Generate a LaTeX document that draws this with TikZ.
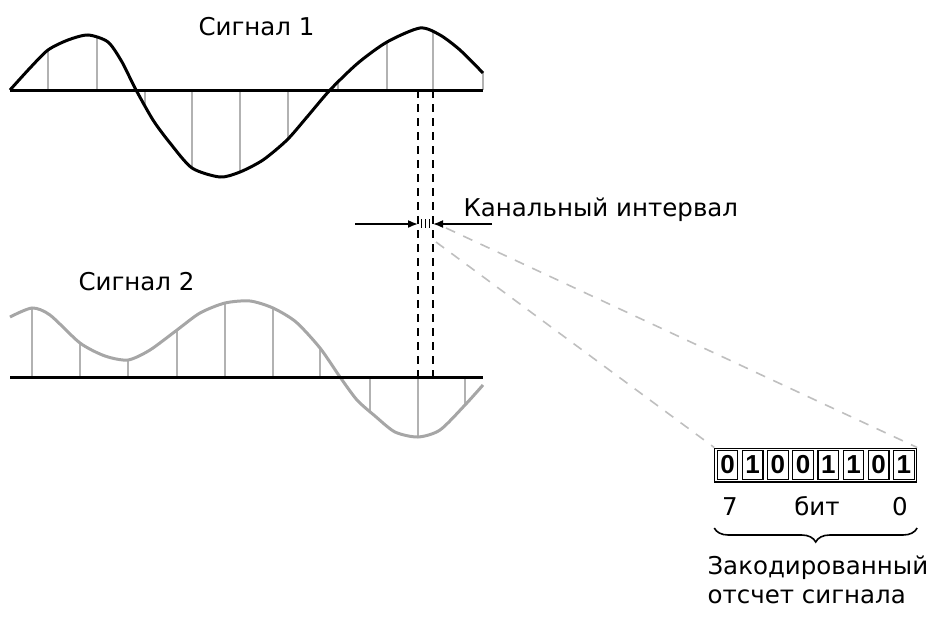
\documentclass[tikz,border=0pt]{standalone}
\usepackage{fontspec}
\setmainfont{DejaVu Sans}
\newfontfamily\bitfont{Liberation Sans}
\usetikzlibrary{positioning,arrows.meta,fit,decorations.pathreplacing}

\begin{document}
\begin{tikzpicture}[
  x=1pt, y=-1pt,
  font=\fontsize{24.5}{29}\selectfont,
  >={Latex[length=10pt,width=8pt]},
  axis/.style={line width=3pt},
  sigA/.style={line width=3pt, black},
  sigB/.style={line width=3pt, black!35},
  smp/.style={line width=2pt, black!30},
  guide/.style={line width=1.6pt, dash pattern=on 8pt off 6pt},
  proj/.style={line width=1.6pt, black!25, dash pattern=on 10pt off 9pt},
  bit/.style={draw, line width=1.2pt, minimum width=20.5pt, minimum height=29pt,
              inner sep=0pt, font=\bitfont\bfseries\fontsize{26}{26}\selectfont},
  node distance=3.5pt,
]
\useasboundingbox (0,0) rectangle (937,621);

\foreach \x/\y in {48/50, 97/37, 145/105, 192/168, 240/172, 288/140, 338/82, 387/42, 433/31, 483/73}
  \draw[smp] (\x,90) -- (\x,\y);
\draw[sigA] plot[smooth, tension=0.45] coordinates {(10,90) (30,68) (48,50) (68,40)
  (88,35) (108,42) (122,62) (135,88) (153,120) (170,143) (192,168) (220,177)
  (240,172) (263,160) (287,140) (307,117) (330,90) (358,63) (387,42) (420,28)
  (440,35) (460,50) (483,73)};
\draw[axis] (10,90) -- (483,90);

\foreach \x/\y in {32/308, 80/343, 128/360, 177/330, 225/303, 273/308, 320/348, 370/412, 418/437, 465/405}
  \draw[smp] (\x,377) -- (\x,\y);
\draw[sigB] plot[smooth, tension=0.45] coordinates {(10,317) (32,308) (50,315)
  (80,343) (105,356) (128,360) (150,350) (177,330) (200,313) (225,303) (250,301)
  (273,308) (296,322) (320,348) (340,377) (357,400) (375,416) (395,432) (418,437)
  (440,430) (465,405) (483,385)};
\draw[axis] (10,377) -- (483,377);

\node[anchor=base west] (s1) at (195,35) {Сигнал 1};
\node[anchor=base west] (s2) at (75,290) {Сигнал 2};

\draw[guide] (418,90) -- (418,377);
\draw[guide] (433,90) -- (433,377);

\coordinate (al) at (355,224);
\coordinate (ar) at (492,224);
\coordinate (ka) at (418,224);
\coordinate (kb) at (433,224);
\draw[line width=1.6pt, ->] (al) -- (ka);
\draw[line width=1.6pt, ->] (ar) -- (kb);
\foreach \x in {421,425,429}
  \draw[line width=1pt] (\x,219) -- (\x,228);
\node[anchor=base west] (kint) at (460,216) {Канальный интервал};

\node[bit] (b7) at (727.5,465) {0};
\node[bit, right=of b7] (b6) {1};
\node[bit, right=of b6] (b5) {0};
\node[bit, right=of b5] (b4) {0};
\node[bit, right=of b4] (b3) {1};
\node[bit, right=of b3] (b2) {1};
\node[bit, right=of b2] (b1) {0};
\node[bit, right=of b1] (b0) {1};
\node[draw, line width=1.2pt, inner sep=1.8pt, fit=(b7)(b0)] (word) {};

\coordinate (pa) at (446,228);
\coordinate (pb) at (436,242);
\draw[proj] (pa) -- (word.north east);
\draw[proj] (pb) -- (word.north west);

\node[anchor=base] (hi) at (730,515) {7};
\node[anchor=base] (nm) at (817,515) {бит};
\node[anchor=base] (lo) at (900,515) {0};
\draw[line width=1.6pt, decorate, decoration={brace, mirror, amplitude=14pt}]
  (word.south west |- 0,528) -- (word.south east |- 0,528);
\node[anchor=north west, align=left] (enc) at (704,552)
  {Закодированный\\отсчет сигнала};
\end{tikzpicture}
\end{document}
